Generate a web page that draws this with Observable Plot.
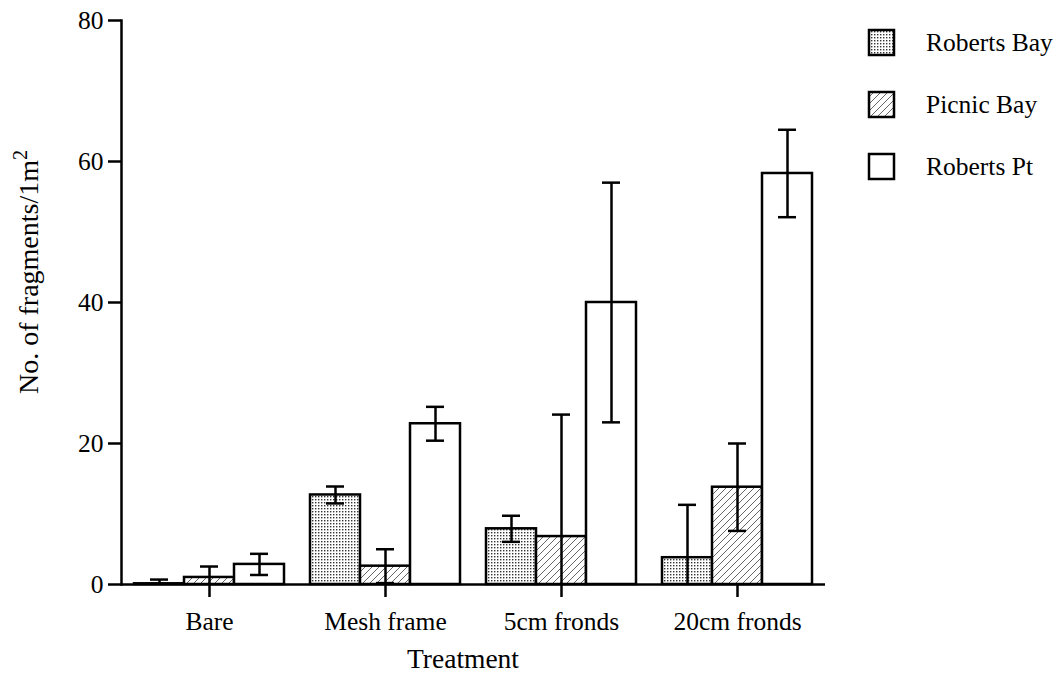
<!DOCTYPE html>
<html>
<head>
<meta charset="utf-8">
<script src="https://cdn.jsdelivr.net/npm/d3@7"></script>
<script src="https://cdn.jsdelivr.net/npm/@observablehq/plot@0.6"></script>
<style>
  html, body { margin: 0; padding: 0; background: white; }
  #chart { position: relative; width: 1057px; height: 675px; }
</style>
</head>
<body>
<div id="chart"></div>
<script>
// ---- data ----
const groups = ["Bare", "Mesh frame", "5cm fronds", "20cm fronds"];
const series = ["Roberts Bay", "Picnic Bay", "Roberts Pt"];
const robertsBay    = [0.1, 12.7, 7.9, 3.8];
const robertsBayErr = [0.6, 1.2, 1.85, 7.5];
const picnicBay     = [1.0, 2.6, 6.8, 13.8];
const picnicBayErr  = [1.55, 2.4, 17.3, 6.2];
const robertsPt     = [2.85, 22.8, 40.0, 58.3];
const robertsPtErr  = [1.5, 2.4, 17.0, 6.2];
const yTicks = [0, 20, 40, 60, 80];
const yLabel = "No. of fragments/1m";
const yLabelSup = "2";
const xLabel = "Treatment";

const values = [robertsBay, picnicBay, robertsPt];
const errors = [robertsBayErr, picnicBayErr, robertsPtErr];
const fills = ["url(#dots)", "url(#hatch)", "white"];

const data = [];
series.forEach((s, si) => groups.forEach((g, gi) => {
  data.push({group: g, series: s, value: values[si][gi], err: errors[si][gi]});
}));

const font = "'Liberation Serif', 'Times New Roman', serif";
const FS = 25.5;
const TFS = 28;
const SW = 2.5;

const plot = Plot.plot({
  width: 1057,
  height: 675,
  marginLeft: 121,
  marginRight: 232,
  marginTop: 20,
  marginBottom: 91,
  style: {fontFamily: font, fontSize: FS + "px", color: "black", background: "white"},
  fx: {domain: groups, padding: 0},
  x: {domain: series, paddingInner: 0, paddingOuter: 0.237, axis: null},
  y: {domain: [0, 80], axis: null},
  marks: [
    ...series.map((s, si) => Plot.barY(data.filter(d => d.series === s), {
      fx: "group", x: "series", y: "value",
      fill: fills[si], stroke: "black", strokeWidth: SW
    })),
    Plot.ruleX(data, {
      fx: "group", x: "series",
      y1: d => d.value - d.err, y2: d => d.value + d.err,
      stroke: "black", strokeWidth: SW, clip: true
    }),
    Plot.tickY(data, {
      fx: "group", x: "series", y: d => d.value + d.err,
      inset: 16, stroke: "black", strokeWidth: SW, clip: true
    }),
    Plot.tickY(data, {
      fx: "group", x: "series", y: d => d.value - d.err,
      inset: 16, stroke: "black", strokeWidth: SW, clip: true
    }),
    Plot.ruleY([0], {stroke: "black", strokeWidth: SW}),
    Plot.frame({anchor: "left", facetAnchor: "left", stroke: "black", strokeWidth: SW}),
    Plot.axisY({
      ticks: yTicks, tickSize: 13, tickPadding: 5, strokeWidth: SW,
      fontSize: FS, label: null
    }),
    Plot.axisFx({
      anchor: "bottom", tickSize: 13, tickPadding: 14, strokeWidth: SW,
      fontSize: FS, label: null
    })
  ]
});

document.getElementById("chart").appendChild(plot);

const svg = d3.select(plot);

// pattern definitions
const defs = svg.insert("defs", ":first-child");
const dots = defs.append("pattern").attr("id", "dots")
  .attr("patternUnits", "userSpaceOnUse").attr("width", 3).attr("height", 3);
dots.append("rect").attr("width", 3).attr("height", 3).attr("fill", "white");
dots.append("rect").attr("x", 1).attr("y", 1).attr("width", 1.4).attr("height", 1.4).attr("fill", "#333");
const hatch = defs.append("pattern").attr("id", "hatch")
  .attr("patternUnits", "userSpaceOnUse").attr("width", 7).attr("height", 7);
hatch.append("rect").attr("width", 7).attr("height", 7).attr("fill", "white");
hatch.append("path").attr("d", "M-1,1 l2,-2 M0,7 l7,-7 M6,8 l2,-2")
  .attr("stroke", "#666").attr("stroke-width", 1);

// y-axis title with superscript
const yt = svg.append("text")
  .attr("transform", "translate(38,272) rotate(-90)")
  .attr("text-anchor", "middle")
  .attr("font-family", font).attr("font-size", TFS).attr("fill", "black");
yt.append("tspan").text(yLabel);
yt.append("tspan").attr("font-size", TFS * 0.72).attr("dy", -11).text(yLabelSup);

// x-axis title
svg.append("text")
  .attr("x", 463).attr("y", 668)
  .attr("text-anchor", "middle")
  .attr("font-family", font).attr("font-size", 27.5).attr("fill", "black")
  .text(xLabel);

// legend
const leg = svg.append("g").attr("class", "legend");
series.forEach((s, i) => {
  const y = 42 + i * 62;
  leg.append("rect").attr("x", 869).attr("y", y - 12).attr("width", 25).attr("height", 25)
    .attr("fill", fills[i]).attr("stroke", "black").attr("stroke-width", SW);
  leg.append("text").attr("x", 926).attr("y", y).attr("dy", "0.35em")
    .attr("text-anchor", "start")
    .attr("font-family", font).attr("font-size", FS).attr("fill", "black").text(s);
});
</script>
</body>
</html>
